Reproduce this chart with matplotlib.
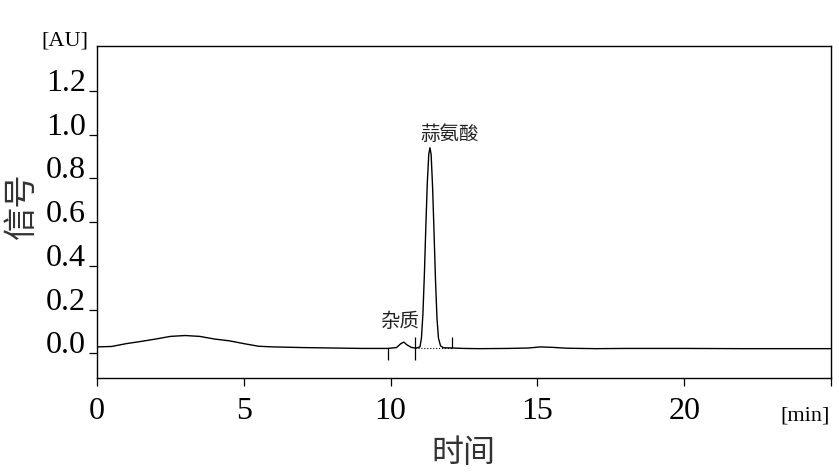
import matplotlib
matplotlib.use('Agg')
import matplotlib.pyplot as plt

plt.rcParams['font.family'] = ['Liberation Serif', 'Noto Sans CJK SC', 'DejaVu Sans']

# chromatogram trace (time in min, signal in AU)
time = [0, 0.5, 1.0, 1.5, 2.0, 2.5, 3.0, 3.5, 4.0, 4.5, 5.0, 5.5, 6.0, 7.0, 8.0, 9.0,
        9.9, 10.2, 10.35, 10.45, 10.55, 10.7, 10.85, 11.0, 11.05, 11.1, 11.15, 11.2,
        11.25, 11.3, 11.34, 11.38, 11.43, 11.48, 11.53, 11.58, 11.63, 11.7, 11.8,
        12.1, 12.5, 13.0, 14.0, 14.7, 15.1, 15.5, 16.0, 17.0, 18.0, 20.0, 22.0, 25.0]
signal = [0.030, 0.032, 0.045, 0.055, 0.066, 0.078, 0.082, 0.078, 0.066, 0.058, 0.045,
          0.033, 0.030, 0.027, 0.025, 0.023, 0.023, 0.027, 0.045, 0.052, 0.040, 0.028,
          0.024, 0.030, 0.07, 0.18, 0.36, 0.58, 0.78, 0.91, 0.94, 0.91, 0.76, 0.55,
          0.33, 0.16, 0.07, 0.035, 0.026, 0.025, 0.023, 0.022, 0.023, 0.025, 0.030,
          0.028, 0.024, 0.022, 0.023, 0.023, 0.022, 0.022]

# integration markers
mark_x = [9.9, 10.82, 12.1]
mark_top = [0.023, 0.075, 0.075]
mark_bot = [-0.03, -0.03, 0.023]
base_x = [10.82, 12.1]
base_y = [0.023, 0.023]

peak_names = ['杂质', '蒜氨酸']
peak_lx = [10.3, 12.0]
peak_ly = [0.145, 1.0]

xticks = [0, 5, 10, 15, 20, 25]
xlabels = ['0', '5', '10', '15', '20', '']
yticks = [0.0, 0.2, 0.4, 0.6, 0.8, 1.0, 1.2]

fig = plt.figure(figsize=(8.39, 4.72), dpi=100)
ax = fig.add_axes([0.1156, 0.1992, 0.8749, 0.7033])

ax.plot(time, signal, color='black', lw=1.0)
ax.vlines(mark_x, mark_bot, mark_top, color='black', lw=0.9)
ax.plot(base_x, base_y, color='black', lw=0.8, ls=':')

for name, lx, ly in zip(peak_names, peak_lx, peak_ly):
    ax.text(lx, ly, name, ha='center', va='center', fontsize=14,
            family=['Noto Sans CJK SC'], color='#222222')

ax.set_xlim(0, 25)
ax.set_ylim(-0.112, 1.405)
ax.set_xticks(xticks)
ax.set_xticklabels(xlabels)
ax.set_yticks(yticks)
ax.set_yticklabels(['%.1f' % v for v in yticks])
ax.tick_params(axis='both', direction='out', length=6, width=0.9, labelsize=23)
ax.tick_params(axis='x', pad=8)
ax.tick_params(axis='y', pad=2)
# y labels sit on top of their tick in the original
for lab in ax.get_yticklabels():
    lab.set_va('baseline')
for s in ax.spines.values():
    s.set_linewidth(1.0)

fig.text(0.0775, 0.913, '[AU]', ha='center', va='center', fontsize=16)
fig.text(0.9885, 0.118, '[min]', ha='right', va='center', fontsize=16)
fig.text(0.026, 0.565, '信号', rotation=90, ha='center', va='center', fontsize=24,
         family=['Noto Sans CJK SC'], color='#333333')
fig.text(0.552, 0.006, '时间', ha='center', va='bottom', fontsize=23,
         family=['Noto Sans CJK SC'], color='#333333')

plt.savefig('out.png', dpi=100)
